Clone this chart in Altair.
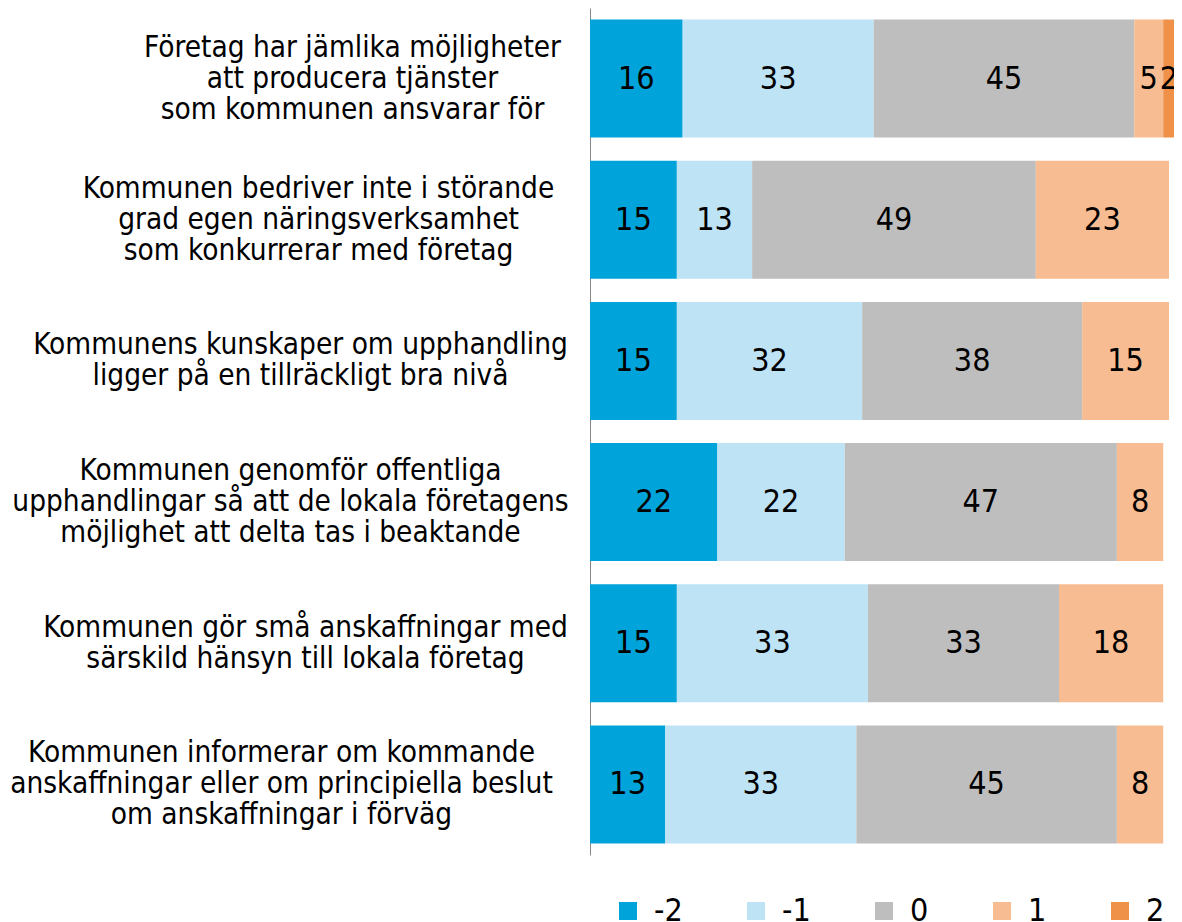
import altair as alt
import pandas as pd

categories = [
    "Företag har jämlika möjligheter|att producera tjänster|som kommunen ansvarar för",
    "Kommunen bedriver inte i störande|grad egen näringsverksamhet|som konkurrerar med företag",
    "Kommunens kunskaper om upphandling|ligger på en tillräckligt bra nivå",
    "Kommunen genomför offentliga|upphandlingar så att de lokala företagens|möjlighet att delta tas i beaktande",
    "Kommunen gör små anskaffningar med|särskild hänsyn till lokala företag",
    "Kommunen informerar om kommande|anskaffningar eller om principiella beslut|om anskaffningar i förväg",
]
levels = ["-2", "-1", "0", "1", "2"]
v_m2 = [16, 15, 15, 22, 15, 13]
v_m1 = [33, 13, 32, 22, 33, 33]
v_0 = [45, 49, 38, 47, 33, 45]
v_p1 = [5, 23, 15, 8, 18, 8]
v_p2 = [2, 0, 0, 0, 0, 0]
colors = ["#00A3DA", "#BDE3F5", "#BEBEBE", "#F7BC91", "#F0914A"]

# label block centre offsets (style only)
label_pad = [238, 272, 290, 300, 285, 309]
LINE_H = 31

rows = []
for lvl_i, (lvl, vals) in enumerate(zip(levels, [v_m2, v_m1, v_0, v_p1, v_p2])):
    for c, v in zip(categories, vals):
        rows.append({"category": c, "level": lvl, "ord": lvl_i, "value": v})
df = pd.DataFrame(rows)

FONT = "DejaVu Sans Condensed"

pad_cond = {
    "condition": [
        {"test": f"datum.value == '{c}'", "value": p}
        for c, p in zip(categories, label_pad)
    ],
    "value": 280,
}
offset_cond = {
    "condition": [
        {"test": "length(split(datum.value, '|')) == 3", "value": -LINE_H},
        {"test": "length(split(datum.value, '|')) == 2", "value": -LINE_H / 2},
    ],
    "value": 0,
}

base = alt.Chart(df).transform_stack(
    stack="value", groupby=["category"], as_=["x0", "x1"],
    sort=[alt.SortField("ord", order="ascending")],
).transform_calculate(mid="(datum.x0 + datum.x1) / 2")

y_enc = alt.Y(
    "category:N", sort=categories, title=None,
    scale=alt.Scale(paddingInner=0.164, paddingOuter=0.082),
    axis=alt.Axis(
        labelExpr="split(datum.label, '|')",
        labelAlign="center", labelBaseline="middle",
        labelFont=FONT, labelFontSize=29.5, labelColor="#000000",
        labelLineHeight=LINE_H, labelLimit=700,
        labelPadding=pad_cond, labelOffset=offset_cond,
        ticks=False, tickSize=0, grid=False,
        domainColor="#868686", domainWidth=1,
    ),
)

bars = base.mark_bar().encode(
    x=alt.X("x0:Q", scale=alt.Scale(domain=[0, 100], nice=False, zero=True), axis=None),
    x2="x1:Q",
    y=y_enc,
    color=alt.Color(
        "level:N", sort=levels,
        scale=alt.Scale(domain=levels, range=colors),
        legend=alt.Legend(
            title=None, orient="none", direction="horizontal", columns=5,
            legendX=22, legendY=887, symbolType="square", symbolSize=324,
            symbolStrokeWidth=0, labelFont=FONT, labelFontSize=32,
            labelColor="#000000", labelOffset=10, columnPadding=57,
            gridAlign="none", padding=0, labelLimit=200,
        ),
    ),
)

texts = base.transform_filter("datum.value > 0").mark_text(
    font=FONT, fontSize=32, color="#000000", align="center", baseline="middle"
).encode(
    x=alt.X("mid:Q"),
    y=alt.Y("category:N", sort=categories),
    text=alt.Text("value:Q"),
)

chart = (bars + texts).properties(
    width=579, height=847,
    autosize=alt.AutoSizeParams(type="none"),
    padding={"left": 582, "top": 0, "right": 5, "bottom": 70},
).configure_view(stroke=None)

chart.save("out.html", embed_options={"renderer": "svg", "actions": False})
